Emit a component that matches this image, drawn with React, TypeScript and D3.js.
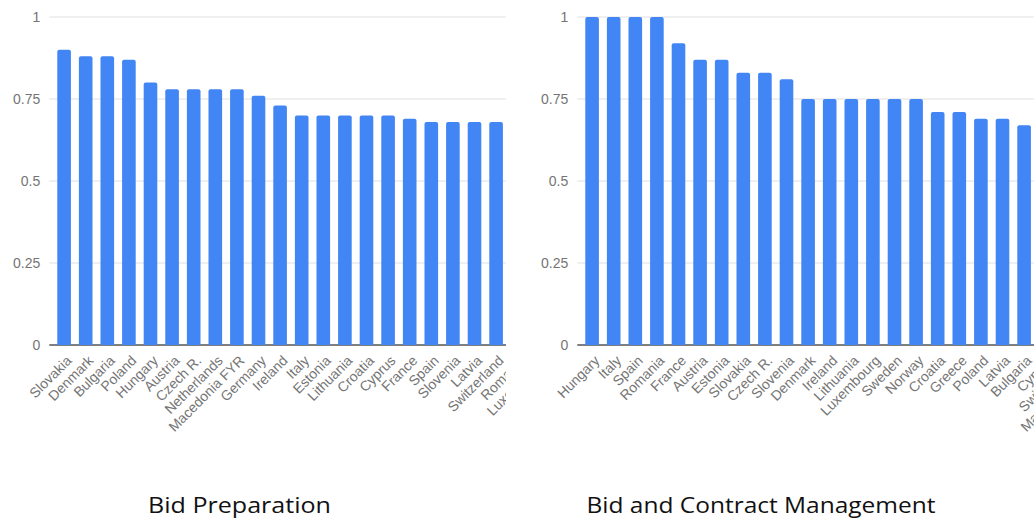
import React from "react";
import * as d3 from "d3";

// Bid Preparation scores by country
const prepCountries = [
  "Slovakia", "Denmark", "Bulgaria", "Poland", "Hungary", "Austria", "Czech R.",
  "Netherlands", "Macedonia FYR", "Germany", "Ireland", "Italy", "Estonia",
  "Lithuania", "Croatia", "Cyprus", "France", "Spain", "Slovenia", "Latvia",
  "Switzerland", "Romania", "Luxembourg",
];
const prepValues = [
  0.9, 0.88, 0.88, 0.87, 0.8, 0.78, 0.78, 0.78, 0.78, 0.76, 0.73, 0.7, 0.7,
  0.7, 0.7, 0.7, 0.69, 0.68, 0.68, 0.68, 0.68, 0.67, 0.66,
];

// Bid and Contract Management scores by country
const mgmtCountries = [
  "Hungary", "Italy", "Spain", "Romania", "France", "Austria", "Estonia",
  "Slovakia", "Czech R.", "Slovenia", "Denmark", "Ireland", "Lithuania",
  "Luxembourg", "Sweden", "Norway", "Croatia", "Greece", "Poland", "Latvia",
  "Bulgaria", "Cyprus", "Switzerland", "Macedonia FYR",
];
const mgmtValues = [
  1, 1, 1, 1, 0.92, 0.87, 0.87, 0.83, 0.83, 0.81, 0.75, 0.75, 0.75, 0.75,
  0.75, 0.75, 0.71, 0.71, 0.69, 0.69, 0.67, 0.66, 0.66, 0.65,
];

const yTicks = [0, 0.25, 0.5, 0.75, 1];

const BAR_COLOR = "#4285F4";
const GRID_COLOR = "#e0e0e0";
const TEXT_GRAY = "#757575";
const AXIS_FONT = "Arial, 'Liberation Sans', sans-serif";

type PanelProps = {
  id: string;
  categories: string[];
  values: number[];
  left: number;      // x where the plot area starts
  clipRight: number; // visible right edge of the panel
  step: number;
  title: string;
  titleX: number;
  titleWidth: number;
};

function Panel({ id, categories, values, left, clipRight, step, title, titleX, titleWidth }: PanelProps) {
  const top = 17;
  const bottom = 345;
  const pad = 0.37;
  const n = categories.length;

  const x = d3
    .scaleBand<string>()
    .domain(categories)
    .range([left, left + step * (n + pad)])
    .paddingInner(pad)
    .paddingOuter(pad);
  const y = d3.scaleLinear().domain([0, 1]).range([bottom, top]);

  const bw = x.bandwidth();
  const r = 2;
  const barPath = (cx0: number, v: number) => {
    const y0 = y(0);
    const y1 = y(v);
    return `M${cx0},${y0}V${y1 + r}Q${cx0},${y1} ${cx0 + r},${y1}H${cx0 + bw - r}Q${cx0 + bw},${y1} ${cx0 + bw},${y1 + r}V${y0}Z`;
  };

  return (
    <g>
      <defs>
        <clipPath id={`clip-${id}`}>
          <rect x={0} y={0} width={clipRight} height={470} />
        </clipPath>
      </defs>
      <g clipPath={`url(#clip-${id})`}>
        {yTicks.map((t) => (
          <line
            key={t}
            x1={left}
            x2={left + step * (n + pad)}
            y1={y(t)}
            y2={y(t)}
            stroke={t === 0 ? "#555" : GRID_COLOR}
            strokeWidth={t === 0 ? 1.5 : 1}
          />
        ))}
        {categories.map((c, i) => (
          <path key={c} d={barPath(x(c)!, values[i])} fill={BAR_COLOR} />
        ))}
        {categories.map((c) => {
          const cx = x(c)! + bw / 2;
          return (
            <text
              key={c}
              transform={`translate(${cx + 5},${bottom + 13}) rotate(-45)`}
              textAnchor="end"
              dy="0.35em"
              fontFamily={AXIS_FONT}
              fontSize={14}
              fill={TEXT_GRAY}
            >
              {c}
            </text>
          );
        })}
      </g>
      {yTicks.map((t) => (
        <text
          key={t}
          x={left - 9}
          y={y(t)}
          dy="0.35em"
          textAnchor="end"
          fontFamily={AXIS_FONT}
          fontSize={14}
          fill={TEXT_GRAY}
        >
          {d3.format("~g")(t)}
        </text>
      ))}
      <text
        x={titleX}
        y={513}
        textAnchor="middle"
        fontFamily="'Open Sans', 'Noto Sans', sans-serif"
        fontSize={22}
        fill="#111"
        textLength={titleWidth}
        lengthAdjust="spacingAndGlyphs"
      >
        {title}
      </text>
    </g>
  );
}

export default function App() {
  return (
    <svg
      width={1034}
      height={522}
      style={{ position: "absolute", left: 0, top: 0, background: "#fff" }}
    >
      <Panel
        id="prep"
        categories={prepCountries}
        values={prepValues}
        left={49.3}
        clipRight={506}
        step={21.6}
        title="Bid Preparation"
        titleX={239.5}
        titleWidth={183}
      />
      <Panel
        id="mgmt"
        categories={mgmtCountries}
        values={mgmtValues}
        left={577.3}
        clipRight={1034}
        step={21.6}
        title="Bid and Contract Management"
        titleX={761}
        titleWidth={349}
      />
    </svg>
  );
}
